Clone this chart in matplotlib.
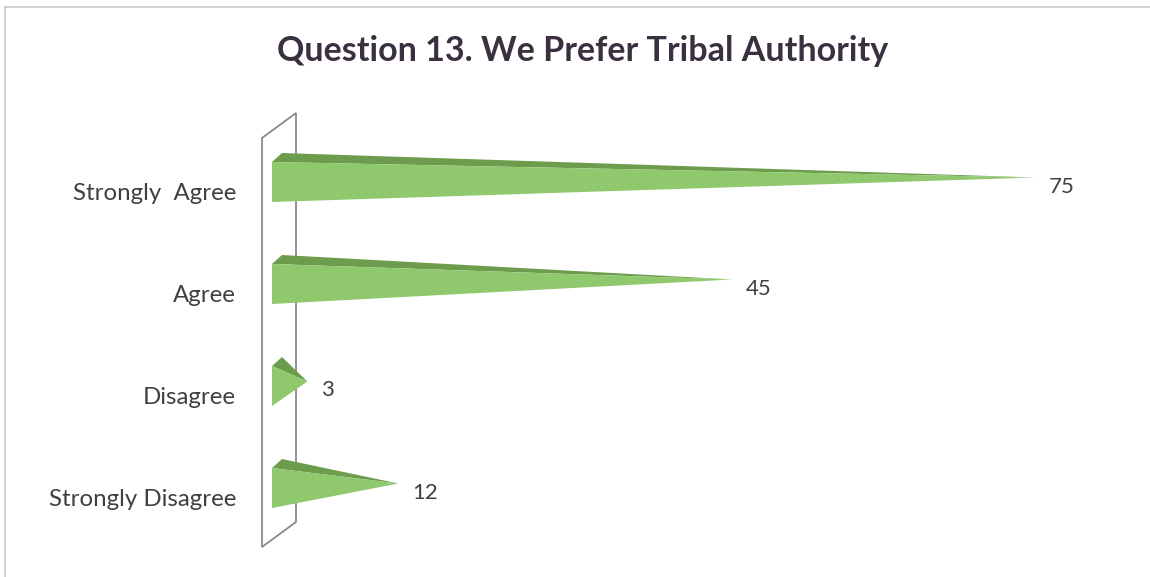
import numpy as np
import matplotlib.pyplot as plt
from matplotlib.patches import Polygon

plt.rcParams['font.family'] = ['Lato', 'DejaVu Sans']

categories = ['Strongly  Agree', 'Agree', 'Disagree', 'Strongly Disagree']
values = [75, 45, 3, 12]
title = 'Question 13. We Prefer Tribal Authority'

front_col = '#8fc86d'
top_col = '#6d9d4c'
text_col = '#404040'

# pixel scale: 0 -> x=272px, 75 -> x=1030px ; categories 102px apart
pxx = 758 / 75
pxy = 102.0
fig = plt.figure(figsize=(11.5, 5.77), dpi=100)
ax = fig.add_axes([0, 0, 1, 1])
ax.set_xlim(-272 / pxx, 878 / pxx)
ax.set_ylim((577 - 182) / pxy, -182 / pxy)
ax.axis('off')

# chart border (top/left visible)
fig.add_artist(plt.Line2D([5 / 1150, 1.0], [1 - 7 / 577, 1 - 7 / 577], color='#c8c8c8', lw=1.2))
fig.add_artist(plt.Line2D([5 / 1150, 5 / 1150], [1 - 7 / 577, 0], color='#c8c8c8', lw=1.2))

# back wall
wx0 = -10 / pxx
wdx, wdy = 34 / pxx, -25 / pxy
wy0, wy1 = (138 - 182) / pxy, (547 - 182) / pxy
wall = Polygon([(wx0, wy0), (wx0 + wdx, wy0 + wdy), (wx0 + wdx, wy1 + wdy), (wx0, wy1)],
               closed=True, facecolor='white', edgecolor='#8a8a8a', lw=1.3, zorder=1)
ax.add_patch(wall)

# pyramids
h = 20 / pxy
dx, dy = 10 / pxx, -9 / pxy
for i, (cat, v) in enumerate(zip(categories, values)):
    c = i
    ft = (0, c - h)
    fb = (0, c + h)
    bt = (dx, c - h + dy)
    apex = (v + dx / 2, c + dy / 2)
    ax.add_patch(Polygon([ft, bt, apex], closed=True, facecolor=top_col, edgecolor='none', zorder=2))
    ax.add_patch(Polygon([ft, fb, apex], closed=True, facecolor=front_col, edgecolor='none', zorder=3))
    ax.annotate(str(v), xy=apex, xytext=(14, -9), textcoords='offset pixels',
                ha='left', va='center', fontsize=16, color=text_col)
    ax.annotate(cat, xy=(0, c), xytext=(-36, -11), textcoords='offset pixels',
                ha='right', va='center', fontsize=17.3, color=text_col)

fig.text(583 / 1150, 1 - 51 / 577, title, ha='center', va='center',
         fontsize=24.5, fontweight='bold', color='#3a3040')

fig.savefig('out.png', dpi=100, facecolor='white')
